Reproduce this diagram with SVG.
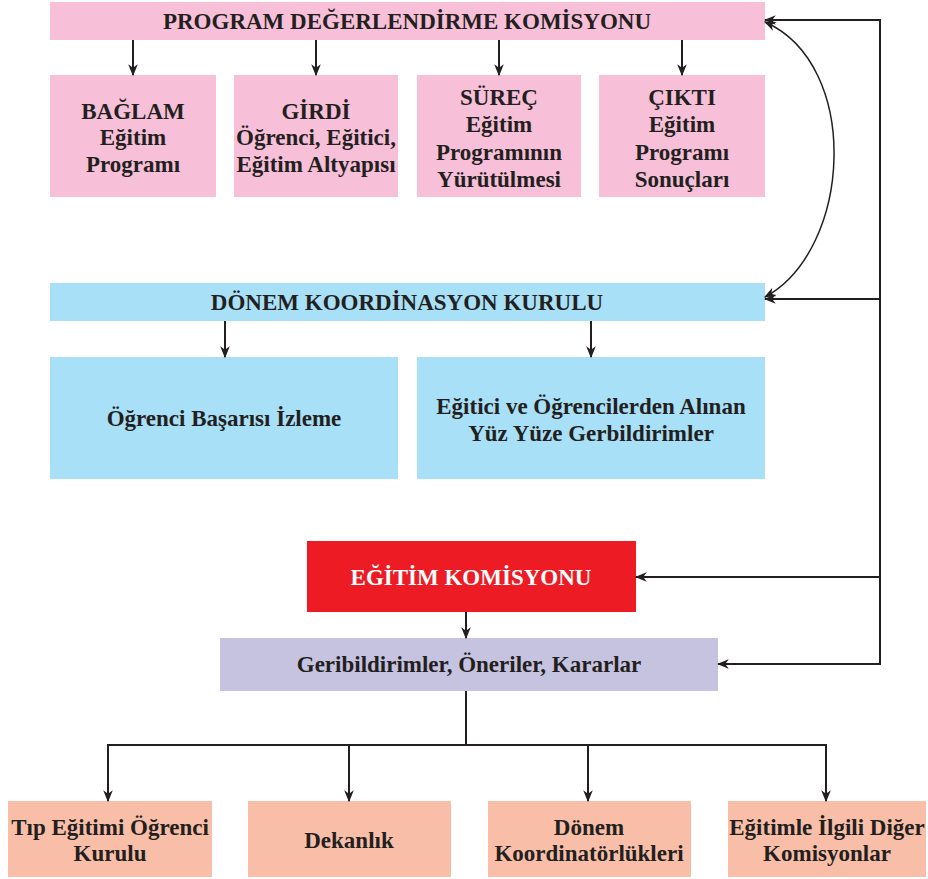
<svg xmlns="http://www.w3.org/2000/svg" width="928" height="879" viewBox="0 0 928 879">
<style>
text{font-family:"Liberation Serif","Times New Roman",serif;font-weight:bold;fill:#231f20;text-anchor:middle;dominant-baseline:central;font-size:23px}
.pink{fill:#f7c0d8}.blue{fill:#a8e0f8}.red{fill:#ed1c24}.purple{fill:#c6c3e1}.salmon{fill:#f9bea7}
.c{stroke:#231f20;stroke-width:2;fill:none}
</style>
<defs>
<marker id="a" viewBox="0 0 10 10" refX="9" refY="5" markerWidth="12" markerHeight="12" markerUnits="userSpaceOnUse" orient="auto-start-reverse">
<path d="M0,1 L10,5 L0,9 L3,5 z" fill="#231f20"/>
</marker>
<marker id="b" viewBox="0 0 10 10" refX="9" refY="5" markerWidth="12" markerHeight="12" markerUnits="userSpaceOnUse" orient="auto">
<path d="M0,1 L10,5 L0,9 L3,5 z" fill="#231f20"/>
</marker>
</defs>
<g id="pdk"><rect class="pink" x="50" y="2" width="715" height="38"/><text x="407" y="21" font-size="24">PROGRAM DEĞERLENDİRME KOMİSYONU</text></g>
<g id="baglam"><rect class="pink" x="50" y="75" width="166" height="122"/><text x="133" y="111">BAĞLAM</text><text x="133" y="137">Eğitim</text><text x="133" y="164">Programı</text></g>
<g id="girdi"><rect class="pink" x="234" y="75" width="164" height="122"/><text x="316" y="111">GİRDİ</text><text x="316" y="137">Öğrenci, Eğitici,</text><text x="316" y="164">Eğitim Altyapısı</text></g>
<g id="surec"><rect class="pink" x="417" y="75" width="164" height="122"/><text x="499" y="97">SÜREÇ</text><text x="499" y="124">Eğitim</text><text x="499" y="152">Programının</text><text x="499" y="179">Yürütülmesi</text></g>
<g id="cikti"><rect class="pink" x="599" y="75" width="166" height="122"/><text x="682" y="97">ÇIKTI</text><text x="682" y="124">Eğitim</text><text x="682" y="152">Programı</text><text x="682" y="179">Sonuçları</text></g>
<g id="dkk"><rect class="blue" x="50" y="283" width="715" height="38"/><text x="407" y="302">DÖNEM KOORDİNASYON KURULU</text></g>
<g id="obi"><rect class="blue" x="50" y="357" width="348" height="122"/><text x="224" y="418">Öğrenci Başarısı İzleme</text></g>
<g id="gerb"><rect class="blue" x="417" y="357" width="348" height="122"/><text x="591" y="406">Eğitici ve Öğrencilerden Alınan</text><text x="591" y="433">Yüz Yüze Gerbildirimler</text></g>
<g id="ek"><rect class="red" x="307" y="541" width="329" height="71"/><text x="471" y="577" style="fill:#fff">EĞİTİM KOMİSYONU</text></g>
<g id="gok"><rect class="purple" x="220" y="638" width="498" height="53"/><text x="469" y="664">Geribildirimler, Öneriler, Kararlar</text></g>
<g id="tip"><rect class="salmon" x="8" y="801" width="204" height="76"/><text x="110" y="827">Tıp Eğitimi Öğrenci</text><text x="110" y="853">Kurulu</text></g>
<g id="dek"><rect class="salmon" x="248" y="801" width="203" height="76"/><text x="349" y="840">Dekanlık</text></g>
<g id="dko"><rect class="salmon" x="488" y="801" width="203" height="76"/><text x="589" y="827">Dönem</text><text x="589" y="853">Koordinatörlükleri</text></g>
<g id="dig"><rect class="salmon" x="728" y="801" width="198" height="76"/><text x="827" y="827">Eğitimle İlgili Diğer</text><text x="827" y="853">Komisyonlar</text></g>
<g id="connectors">
<path class="c" marker-end="url(#b)" d="M133,40 V75"/>
<path class="c" marker-end="url(#b)" d="M316,40 V75"/>
<path class="c" marker-end="url(#b)" d="M499,40 V75"/>
<path class="c" marker-end="url(#b)" d="M682,40 V75"/>
<path class="c" marker-end="url(#b)" d="M225,321 V357"/>
<path class="c" marker-end="url(#b)" d="M591,321 V357"/>
<path class="c" marker-end="url(#b)" d="M466,612 V638"/>
<path class="c" d="M466,691 V745 M107,745 H827"/>
<path class="c" marker-end="url(#b)" d="M108,745 V801"/>
<path class="c" marker-end="url(#b)" d="M349,745 V801"/>
<path class="c" marker-end="url(#b)" d="M588,745 V801"/>
<path class="c" marker-end="url(#b)" d="M826,745 V801"/>
<path class="c" d="M880,19 V665"/>
<path class="c" marker-end="url(#b)" d="M881,20 H765"/>
<path class="c" marker-end="url(#b)" d="M880,299 H765"/>
<path class="c" marker-end="url(#b)" d="M880,577 H636"/>
<path class="c" marker-end="url(#b)" d="M881,664 H718"/>
<path class="c" style="stroke-width:1.5" marker-start="url(#a)" marker-end="url(#a)" d="M765,22 C862,65 852,250 765,297"/>
</g>
</svg>
